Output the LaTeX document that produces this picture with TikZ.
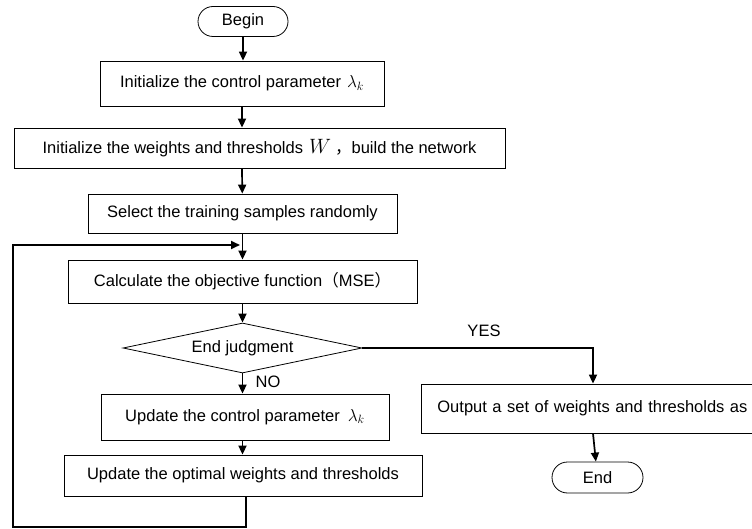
\documentclass[tikz,border=0pt]{standalone}
\usepackage{fontspec}
\setmainfont{Liberation Sans}
\newfontfamily\cjk{Noto Sans CJK SC}
\usetikzlibrary{arrows.meta,shapes.geometric,shapes.misc}
\begin{document}
\begin{tikzpicture}[x=1pt,y=-1pt,
  every node/.style={font=\fontsize{16.5}{19}\selectfont, inner sep=0pt},
  box/.style={draw, line width=0.8pt, rectangle},
  term/.style={draw, line width=0.8pt, rounded rectangle},
  decide/.style={draw, line width=0.8pt, diamond, aspect=4.78},
  flow/.style={line width=1.7pt, -{Triangle[length=9pt,width=8pt]}}
]
\useasboundingbox (0,0) rectangle (752,529);
\node[term, minimum width=90pt, minimum height=30pt] (begin) at (243,21.5) {Begin};
\node[box, minimum width=284pt, minimum height=45pt] (b1) at (242,83.5) {Initialize the control parameter\hspace{6pt}$\lambda_k$\hspace{8pt}};
\node[box, minimum width=491pt, minimum height=40pt] (b2) at (259.5,148) {Initialize the weights and thresholds\hspace{6pt}{\fontsize{22}{22}\selectfont$W$}\hspace{4pt}{\cjk ，}build the network\hspace{16pt}};
\node[box, minimum width=309pt, minimum height=39pt] (b3) at (242.5,213.5) {Select the training samples randomly};
\node[box, minimum width=349pt, minimum height=43pt] (b4) at (242.5,281.5) {Calculate the objective function{\cjk （}MSE{\cjk ）}\hspace{20pt}};
\node[decide, minimum width=239pt, minimum height=50pt] (d) at (242.5,348) {End judgment};
\node[box, minimum width=288pt, minimum height=46pt] (b5) at (245,417) {Update the control parameter\hspace{8pt}$\lambda_k$\hspace{12pt}};
\node[box, minimum width=358pt, minimum height=41pt] (b6) at (243,475.5) {Update the optimal weights and thresholds\hspace{8pt}};
\node[box, minimum width=345pt, minimum height=49pt, anchor=west, text width=313pt, inner xsep=16pt, align=left] (out) at (421,408.5) {Output a set of weights and thresholds as};
\node[term, minimum width=91pt, minimum height=31pt] (end) at (597.5,477.5) {End};
\node (yes) at (484,331) {YES};
\node (no) at (268,382) {NO};
\coordinate (loopin) at (240,245);
\coordinate (yesc) at (593,348);
\draw[flow] (begin) -- (b1.north -| begin.south);
\draw[flow] (b1) -- (b2.north -| b1.south);
\draw[flow] (b2.south -| b1.south) -- (b3);
\draw[flow] (b3) -- (b4);
\draw[flow] (b4) -- (d);
\draw[flow] (d) -- (b5.north -| d.south);
\draw[flow] (b5.south -| d.south) -- (b6.north -| d.south);
\draw[flow] (d.east) -- (yesc) -- (out.north -| yesc);
\draw[flow] (out.south -| yesc) -- (end);
\draw[flow] (b6.south -| 246,0) -- (246,527) -- (13,527) -- (13,245) -- (loopin);
\end{tikzpicture}
\end{document}
